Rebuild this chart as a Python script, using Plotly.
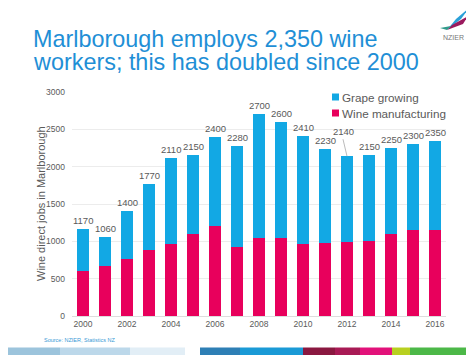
import plotly.graph_objects as go

years = list(range(2000, 2017))
totals = [1170, 1060, 1400, 1770, 2110, 2150, 2400, 2280, 2700, 2600, 2410, 2230, 2140, 2150, 2250, 2300, 2350]
wine_manufacturing = [600, 670, 770, 880, 960, 1100, 1200, 930, 1050, 1050, 960, 980, 990, 1000, 1100, 1150, 1150]
grape_growing = [t - w for t, w in zip(totals, wine_manufacturing)]
x_tick_values = list(range(2000, 2017, 2))
x_tick_labels = [str(y) for y in x_tick_values]
y_tick_values = [0, 500, 1000, 1500, 2000, 2500, 3000]
series_names = ["Grape growing", "Wine manufacturing"]

BLUE = "#12A8E4"
PINK = "#E8005C"
TXT = "#5a5a5a"
FONT = "Liberation Sans, Arial, sans-serif"

# the page body has an 8px margin: figure sits at (8, 8) inside the 474x355 window
OFF = 8
W, H = 474 - OFF, 355 - OFF
ML, MR, MT, MB = 72 - OFF, 28, 92 - OFF, 39
PW, PH = W - ML - MR, H - MT - MB


def py(win_y):
    return (355 - MB - win_y) / PH


def pxx(win_x):
    return (win_x - 72) / PW


fig = go.Figure()
fig.add_trace(go.Bar(x=years, y=wine_manufacturing, name=series_names[1],
                     marker=dict(color=PINK, line=dict(width=0))))
fig.add_trace(go.Bar(x=years, y=grape_growing, name=series_names[0],
                     marker=dict(color=BLUE, line=dict(width=0))))

annotations = []
for yr, t in zip(years, totals):
    if yr == 2012:
        annotations.append(dict(x=yr, y=t, text=str(t), showarrow=True, arrowhead=0,
                                arrowwidth=0.8, arrowcolor="#aaaaaa", ax=-4, ay=-17,
                                font=dict(size=9.5, color=TXT, family=FONT), yanchor="bottom"))
    else:
        annotations.append(dict(x=yr, y=t, text=str(t), showarrow=False, yanchor="bottom",
                                yshift=1, font=dict(size=9.5, color=TXT, family=FONT)))

# title
TITLE_C = "#1F8FD6"
annotations.append(dict(xref="paper", yref="paper", x=pxx(31), y=py(39), xanchor="left", yanchor="middle",
                        text="Marlborough employs 2,350 wine", showarrow=False,
                        font=dict(size=23.4, color=TITLE_C, family=FONT)))
annotations.append(dict(xref="paper", yref="paper", x=pxx(31), y=py(62), xanchor="left", yanchor="middle",
                        text="workers; this has doubled since 2000", showarrow=False,
                        font=dict(size=23.4, color=TITLE_C, family=FONT)))
# y-axis title
annotations.append(dict(xref="paper", yref="paper", x=pxx(41), y=py(204), xanchor="center", yanchor="middle",
                        text="Wine direct jobs in Marlborough", showarrow=False, textangle=-90,
                        font=dict(size=11, color=TXT, family=FONT)))
# logo text
annotations.append(dict(xref="paper", yref="paper", x=pxx(453), y=py(38), xanchor="center", yanchor="middle",
                        text="NZIER", showarrow=False,
                        font=dict(size=7, color="#777777", family=FONT)))
# source
annotations.append(dict(xref="paper", yref="paper", x=pxx(42), y=py(340), xanchor="left", yanchor="middle",
                        text="Source: NZIER, Statistics NZ", showarrow=False,
                        font=dict(size=5.5, color="#3a9ad6", family=FONT)))

shapes = []
# manual legend
legend_rows = [(series_names[0], BLUE, 97), (series_names[1], PINK, 113)]
for name, col, yc in legend_rows:
    shapes.append(dict(type="rect", xref="paper", yref="paper", x0=pxx(332), x1=pxx(339),
                       y0=py(yc + 3.5), y1=py(yc - 3.5), fillcolor=col, line=dict(width=0)))
    annotations.append(dict(xref="paper", yref="paper", x=pxx(340), y=py(yc), xanchor="left",
                            yanchor="middle", text=name, showarrow=False,
                            font=dict(size=11.7, color=TXT, family=FONT)))

# logo wings
shapes.append(dict(type="path", xref="paper", yref="paper",
                   path=f"M {pxx(447)} {py(30)} L {pxx(461)} {py(19)} L {pxx(469)} {py(8)} L {pxx(456)} {py(19)} Z",
                   fillcolor="#2aa0d8", line=dict(width=0)))
shapes.append(dict(type="path", xref="paper", yref="paper",
                   path=f"M {pxx(447)} {py(30)} L {pxx(463)} {py(24)} L {pxx(468)} {py(16)} L {pxx(452)} {py(25)} Z",
                   fillcolor="#9a1a5e", line=dict(width=0)))
shapes.append(dict(type="path", xref="paper", yref="paper",
                   path=f"M {pxx(440)} {py(28)} L {pxx(447)} {py(30)} L {pxx(451)} {py(26)} Z",
                   fillcolor="#2f9a8a", line=dict(width=0)))

# bottom band
band = [(8, 60, "#9cc4dc"), (60, 130, "#bcd8ea"), (130, 185, "#e2eef6"),
        (200, 240, "#2e7fb5"), (240, 303, "#1a9ad6"), (303, 335, "#8a1840"),
        (335, 360, "#a81a55"), (360, 392, "#e2127a"), (392, 410, "#b8d020"),
        (410, 474, "#4cb848")]
for a, b, c in band:
    shapes.append(dict(type="rect", xref="paper", yref="paper", x0=pxx(a), x1=pxx(b),
                       y0=py(355), y1=py(347.5), fillcolor=c, line=dict(width=0), layer="above"))

fig.update_layout(
    width=W, height=H,
    margin=dict(l=ML, r=MR, t=MT, b=MB, autoexpand=False),
    barmode="stack", bargap=0.42,
    plot_bgcolor="white", paper_bgcolor="white",
    font=dict(family=FONT, color=TXT),
    showlegend=False,
    xaxis=dict(range=[1999.5, 2016.5], tickmode="array", tickvals=x_tick_values, ticktext=x_tick_labels,
               tickfont=dict(size=8.5, color=TXT), showgrid=False, showline=True,
               linecolor="#dddddd", linewidth=1, ticks="", zeroline=False, automargin=False),
    yaxis=dict(range=[0, 3000], tickvals=y_tick_values, tickfont=dict(size=8.5, color=TXT),
               gridcolor="#ececec", gridwidth=1, zeroline=False, showline=False, automargin=False,
               ticklabelstandoff=6),
    annotations=annotations,
    shapes=shapes,
)

fig.write_html("out.html")
